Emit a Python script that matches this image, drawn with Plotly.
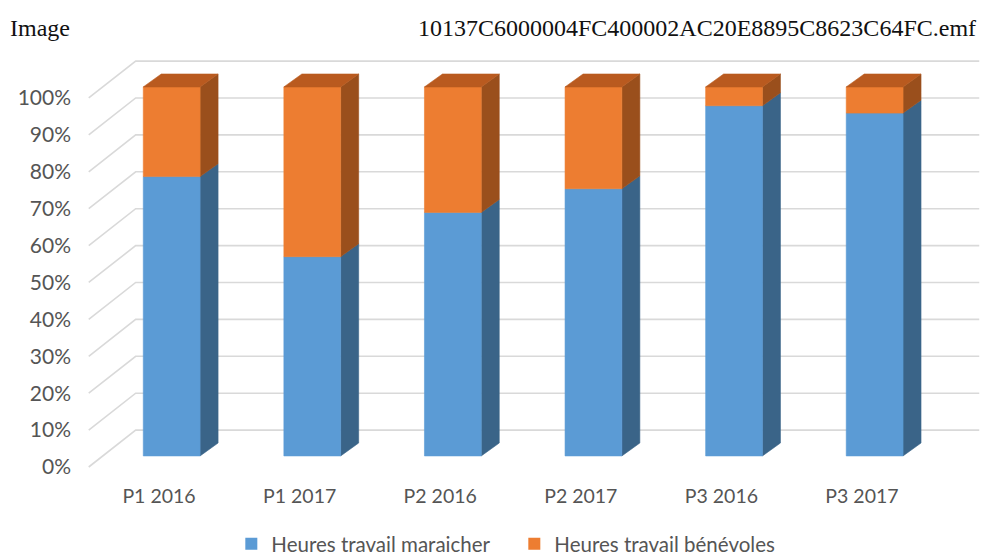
import plotly.graph_objects as go

# ---------------- data ----------------
categories = ["P1 2016", "P1 2017", "P2 2016", "P2 2017", "P3 2016", "P3 2017"]
maraicher = [75.7, 54.0, 66.0, 72.4, 94.9, 92.9]
benevoles = [24.3, 46.0, 34.0, 27.6, 5.1, 7.1]
series_names = ["Heures travail maraicher", "Heures travail bénévoles"]
y_ticks = [0, 10, 20, 30, 40, 50, 60, 70, 80, 90, 100]
y_tick_labels = ["0%", "10%", "20%", "30%", "40%", "50%", "60%", "70%", "80%", "90%", "100%"]
title_left = "Image"
title_right = "10137C6000004FC400002AC20E8895C8623C64FC.emf"

# ---------------- styles / 3D projection ----------------
FRONT_FILL = ["#5B9BD5", "#ED7D31"]
SIDE_FILL = ["#3A6488", "#9A4F1C"]
TOP_FILL = ["#4A7FB0", "#B95A1F"]
GRID = "#D9D9D9"
BAR_W = 0.404
FRONT = (0.09, 3.0)   # (dx in category units, dy in % units)
BACK = (0.218, 6.5)
WALL = (0.334, 10.0)
FONT = "Lato"
TXT = "#555555"

n = len(categories)
totals = [m + b for m, b in zip(maraicher, benevoles)]
pct = [[100 * v / t for v, t in zip(maraicher, totals)],
       [100 * v / t for v, t in zip(benevoles, totals)]]

fig = go.Figure()

# back wall gridlines + side-wall diagonals
gx, gy = [], []
x0, x1 = -0.5, n - 0.5
for v in y_ticks:
    gx += [x0, x0 + WALL[0], x1 + WALL[0], None]
    gy += [v, v + WALL[1], v + WALL[1], None]
fig.add_trace(go.Scatter(x=gx, y=gy, mode="lines", line=dict(color=GRID, width=1.6),
                         hoverinfo="skip", showlegend=False))

# bars
bottoms = [0.0] * n
for s in range(2):
    fx, fy, sx, sy, tx, ty = [], [], [], [], [], []
    for i in range(n):
        b = bottoms[i]
        t = b + pct[s][i]
        L = i + FRONT[0] - BAR_W / 2
        R = i + FRONT[0] + BAR_W / 2
        dbx = BACK[0] - FRONT[0]
        fx += [L, R, R, L, L, None]
        fy += [b + FRONT[1], b + FRONT[1], t + FRONT[1], t + FRONT[1], b + FRONT[1], None]
        sx += [R, R + dbx, R + dbx, R, R, None]
        sy += [b + FRONT[1], b + BACK[1], t + BACK[1], t + FRONT[1], b + FRONT[1], None]
        if s == 1:
            tx += [L, R, R + dbx, L + dbx, L, None]
            ty += [t + FRONT[1], t + FRONT[1], t + BACK[1], t + BACK[1], t + FRONT[1], None]
        bottoms[i] = t
    fig.add_trace(go.Scatter(x=sx, y=sy, fill="toself", mode="lines", fillcolor=SIDE_FILL[s],
                             line=dict(color=SIDE_FILL[s], width=0.6), hoverinfo="skip", showlegend=False))
    fig.add_trace(go.Scatter(x=fx, y=fy, fill="toself", mode="lines", fillcolor=FRONT_FILL[s],
                             line=dict(color=FRONT_FILL[s], width=0.6), hoverinfo="skip", showlegend=False))
    if tx:
        fig.add_trace(go.Scatter(x=tx, y=ty, fill="toself", mode="lines", fillcolor=TOP_FILL[s],
                                 line=dict(color=TOP_FILL[s], width=0.6), hoverinfo="skip", showlegend=False))

# legend entries
for s in range(2):
    fig.add_trace(go.Scatter(x=[None], y=[None], mode="markers", name=series_names[s],
                             marker=dict(symbol="square", size=12, color=FRONT_FILL[s])))

fig.add_annotation(text=title_left, xref="paper", yref="paper", x=-0.0701, y=1.0602,
                   xanchor="left", yanchor="middle", showarrow=False,
                   font=dict(family="Liberation Serif", size=24, color="#111111"))
fig.add_annotation(text=title_right, xref="paper", yref="paper", x=0.9923, y=1.0602,
                   xanchor="right", yanchor="middle", showarrow=False,
                   font=dict(family="Liberation Serif", size=24, color="#111111"))

fig.update_layout(
    width=995, height=556,
    margin=dict(l=64, r=18, t=46, b=78, autoexpand=False),
    paper_bgcolor="white", plot_bgcolor="white",
    font=dict(family=FONT, size=20, color=TXT),
    xaxis=dict(range=[-0.619, 5.875], tickvals=list(range(n)), ticktext=categories,
               showgrid=False, zeroline=False, showline=False, ticks="", fixedrange=True,
               tickfont=dict(size=19.5), ticklabelstandoff=-4),
    yaxis=dict(range=[-5.15, 111.92], tickvals=y_ticks, ticktext=y_tick_labels,
               showgrid=False, zeroline=False, showline=False, ticks="", fixedrange=True,
               tickfont=dict(size=21)),
    legend=dict(orientation="h", x=0.1745, y=-0.134, xanchor="left", yanchor="middle",
                entrywidth=238, entrywidthmode="pixels", font=dict(size=20.5, color=TXT)),
    hovermode=False,
)

fig.write_html("out.html")
